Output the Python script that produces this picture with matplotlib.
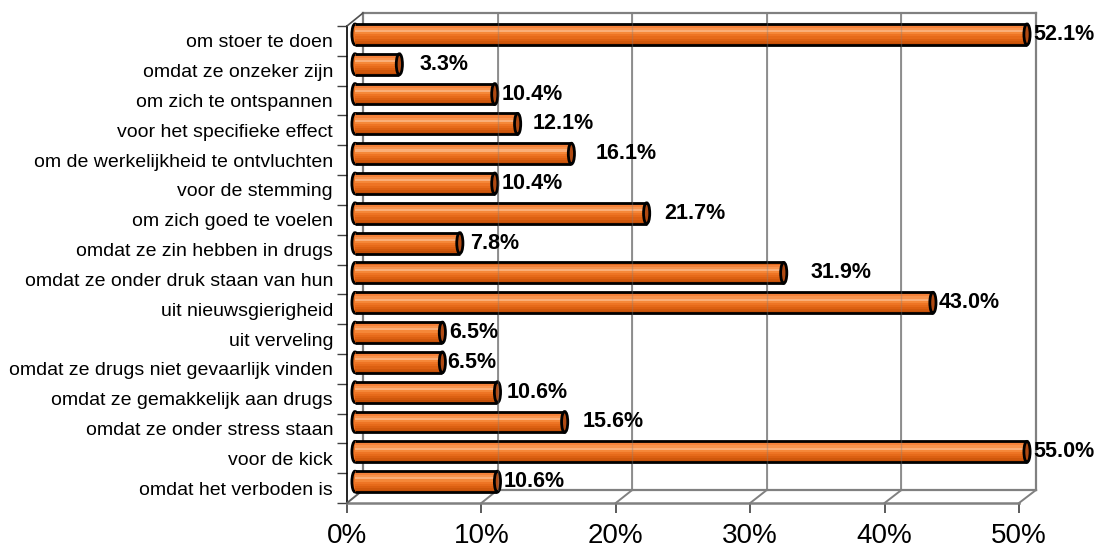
import matplotlib
matplotlib.use("Agg")
import matplotlib.pyplot as plt
from matplotlib.patches import Ellipse
from matplotlib.lines import Line2D
import numpy as np

plt.rcParams['font.family'] = ['Liberation Sans', 'DejaVu Sans']

categories = [
    "om stoer te doen",
    "omdat ze onzeker zijn",
    "om zich te ontspannen",
    "voor het specifieke effect",
    "om de werkelijkheid te ontvluchten",
    "voor de stemming",
    "om zich goed te voelen",
    "omdat ze zin hebben in drugs",
    "omdat ze onder druk staan van hun",
    "uit nieuwsgierigheid",
    "uit verveling",
    "omdat ze drugs niet gevaarlijk vinden",
    "omdat ze gemakkelijk aan drugs",
    "omdat ze onder stress staan",
    "voor de kick",
    "omdat het verboden is",
]
values = [52.1, 3.3, 10.4, 12.1, 16.1, 10.4, 21.7, 7.8, 31.9, 43.0,
          6.5, 6.5, 10.6, 15.6, 55.0, 10.6]
xticks = [0, 10, 20, 30, 40, 50]
xticklabels = ["0%", "10%", "20%", "30%", "40%", "50%"]
xmax = 50

# extra gap (pixels) between bar end and its value label, as placed in the original
label_gap_px = [3, 17, 4, 12, 21, 4, 15, 7, 24, 3, 4, 2, 6, 15, 3, 3]

W, H = 1095, 550
fig = plt.figure(figsize=(W / 100, H / 100), dpi=100)


def rect(l, t, r, b):
    return [l / W, 1 - b / H, (r - l) / W, (b - t) / H]


n = len(categories)
GRID = "#808080"

# ---- back wall ----
ax_back = fig.add_axes(rect(363, 13, 1036, 490), zorder=0)
ax_back.set_xlim(0, xmax)
ax_back.set_ylim(0, 1)
ax_back.set_xticks([])
ax_back.set_yticks([])
for s in ax_back.spines.values():
    s.set_color(GRID)
    s.set_linewidth(1.6)
for t in xticks[1:-1]:
    ax_back.axvline(t, color=GRID, lw=1.2, zorder=0)

# ---- front axes (ticks, labels) ----
ax_front = fig.add_axes(rect(347, 26, 1019, 503), zorder=1)
ax_front.patch.set_alpha(0)
ax_front.set_xlim(0, xmax)
ax_front.set_ylim(n - 0.5, -0.5)
ax_front.spines['top'].set_visible(False)
ax_front.spines['right'].set_visible(False)
ax_front.spines['left'].set_color('black')
ax_front.spines['left'].set_linewidth(1.2)
ax_front.spines['bottom'].set_color(GRID)
ax_front.spines['bottom'].set_linewidth(1.8)
ax_front.set_xticks(xticks)
ax_front.set_xticklabels(xticklabels, fontsize=20)
ax_front.tick_params(axis='x', length=7.5, width=1.2, color='#404040', pad=7)
ax_front.set_yticks(np.arange(n))
ax_front.set_yticklabels(categories, fontsize=14)
ax_front.set_yticks(np.arange(n + 1) - 0.5, minor=True)
ax_front.tick_params(axis='y', which='major', length=0, pad=10)
ax_front.tick_params(axis='y', which='minor', length=7.5, width=1.0, color='#404040')

# ---- 3D edges: floor diagonals and top-left diagonal ----
inv = fig.transFigure.inverted()
for t in xticks:
    p0 = ax_front.transData.transform((t, n - 0.5))
    p1 = ax_back.transData.transform((t, 0))
    (x0, y0), (x1, y1) = inv.transform([p0, p1])
    fig.add_artist(Line2D([x0, x1], [y0, y1], color=GRID if t else '#606060', lw=1.4, zorder=1.5))
p0 = ax_front.transData.transform((0, -0.5))
p1 = ax_back.transData.transform((0, 1))
(x0, y0), (x1, y1) = inv.transform([p0, p1])
fig.add_artist(Line2D([x0, x1], [y0, y1], color='#505050', lw=1.2, zorder=1.5))

# ---- bars (cylinders) ----
ax_bar = fig.add_axes(rect(355, 19.5, 1027, 496.5), zorder=2)
ax_bar.patch.set_alpha(0)
ax_bar.set_xlim(0, xmax)
ax_bar.set_ylim(n - 0.5, -0.5)
ax_bar.axis('off')

bh = 0.7
cap_w = 0.46
ypos = np.arange(n)
lengths = np.minimum(values, xmax)
shade = ["#E06A20", "#F5823A", "#F8944E", "#FAAE78", "#F58738",
         "#EE7424", "#E66A1A", "#DC6012", "#D0580C", "#C45008"]
ns = len(shade)

for y, L in zip(ypos, lengths):
    ax_bar.add_patch(Ellipse((0, y), cap_w, bh, facecolor=shade[5],
                             edgecolor='black', lw=2, zorder=3, clip_on=False))
for k, c in enumerate(shade):
    off = -bh / 2 + (k + 0.5) * bh / ns
    ax_bar.barh(ypos + off, lengths, height=bh / ns * 1.02, color=c,
                edgecolor='none', zorder=4, clip_on=False)
ax_bar.hlines(ypos - bh / 2, 0, lengths, color='black', lw=2, zorder=5, clip_on=False)
ax_bar.hlines(ypos + bh / 2, 0, lengths, color='black', lw=2, zorder=5, clip_on=False)
for y, L in zip(ypos, lengths):
    ax_bar.add_patch(Ellipse((L, y), cap_w, bh, facecolor="#B04A12",
                             edgecolor='black', lw=2, zorder=6, clip_on=False))

# faint grid visible through bars
for t in xticks[1:-1]:
    ax_bar.plot([t, t], [0, 1], transform=ax_back.get_xaxis_transform(),
                color=GRID, lw=1.0, alpha=0.35, zorder=7, clip_on=False)

# data labels
for y, v, L, g in zip(ypos, values, lengths, label_gap_px):
    ax_bar.annotate(f"{v:.1f}%", (L, y), xytext=((3.0 + g) * 0.72, 0),
                    textcoords='offset points',
                    ha='left', va='center', fontsize=15.5, fontweight='bold',
                    color='black', zorder=8, annotation_clip=False)

fig.savefig("out.png", dpi=100)
